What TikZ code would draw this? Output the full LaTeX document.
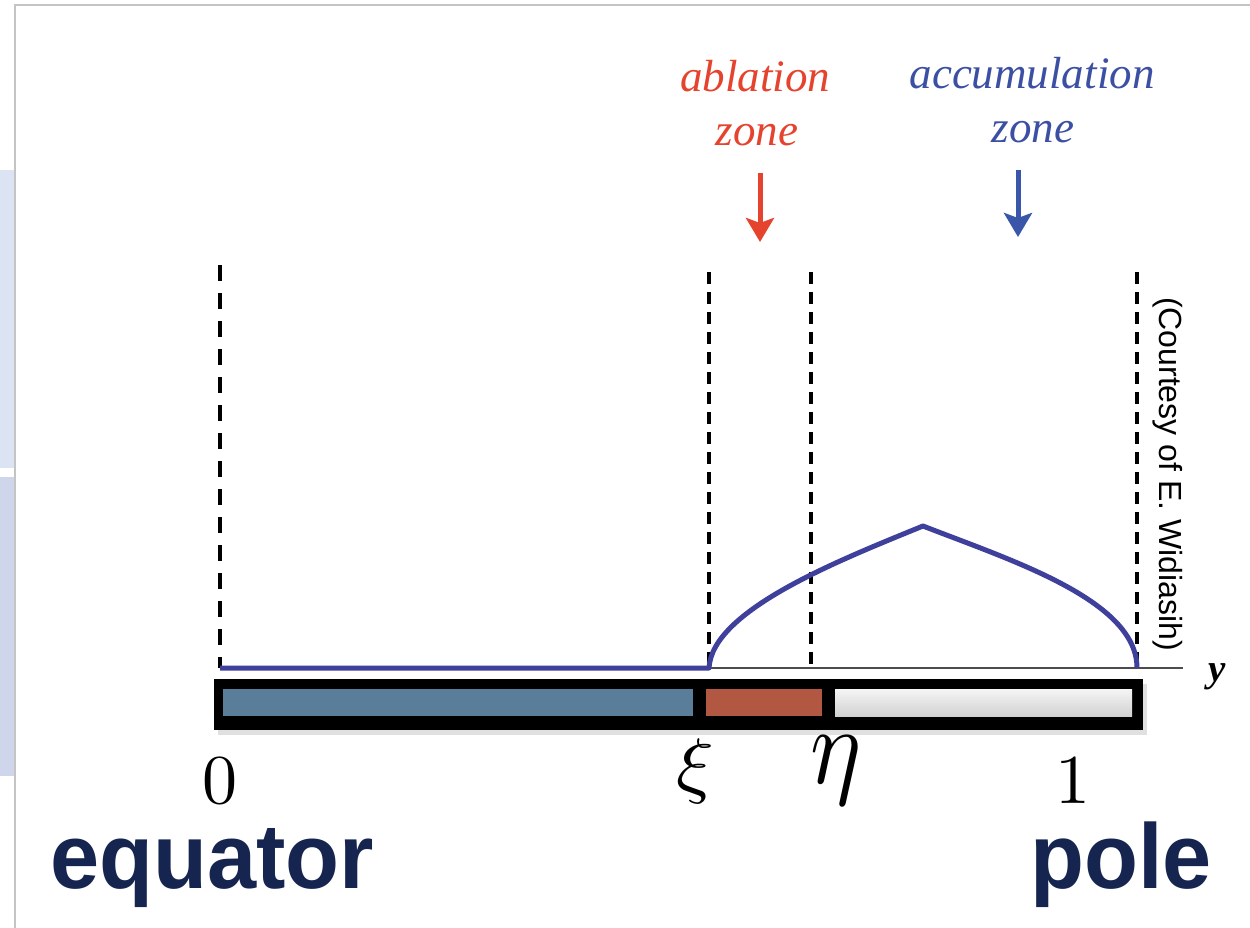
\documentclass[tikz,border=0pt]{standalone}
\usepackage{graphicx}
\usepackage{fontspec}
\usetikzlibrary{arrows.meta}
\newfontfamily\helv{Liberation Sans}
\newfontfamily\tms{Liberation Serif}
\definecolor{stripA}{HTML}{DCE3F3}
\definecolor{stripB}{HTML}{CFD6EB}
\definecolor{framegray}{HTML}{C4C4C4}
\definecolor{ablred}{HTML}{E5432E}
\definecolor{accblue}{HTML}{3B4FA3}
\definecolor{arrblue}{HTML}{3A56A8}
\definecolor{curveblue}{HTML}{3F3F9C}
\definecolor{barblue}{HTML}{5A7D9A}
\definecolor{barred}{HTML}{B25842}
\definecolor{navy}{HTML}{15254F}
\newcommand{\hugemath}[3]{\scalebox{#1}[#2]{\fontsize{10}{12}\selectfont$#3$}}
\begin{document}
\begin{tikzpicture}[x=1pt,y=-1pt,
  dashA/.style={draw=black,line width=4pt,dash pattern=on 16pt off 12pt},
  dashB/.style={draw=black,line width=3.2pt,dash pattern=on 12pt off 8pt},
  curve/.style={draw=curveblue,line width=5pt,line join=round},
  zonelab/.style={inner sep=0pt,font=\tms\itshape\fontsize{45}{50}\selectfont},
  zonearrow/.style={line width=5pt,-{Stealth[length=24pt,width=28pt,inset=5pt]}},
  ticklab/.style={inner sep=0pt},
  bigword/.style={inner sep=0pt,text=navy,xscale=0.96,font=\helv\bfseries\fontsize{92}{100}\selectfont}
]
\useasboundingbox (0,0) rectangle (1250,928);
\fill[white] (0,0) rectangle (1250,928);
% left strips and frame
\fill[stripA] (0,170) rectangle (14,468);
\fill[stripB] (0,477) rectangle (14,776);
\draw[framegray,line width=1.5pt] (15,928) -- (15,5) -- (1250,5);
% dashed verticals
\coordinate (d0t) at (220,265); \coordinate (d0b) at (220,668);
\coordinate (d1t) at (709,272); \coordinate (d1b) at (709,668);
\coordinate (d2t) at (811,272); \coordinate (d2b) at (811,668);
\coordinate (d3t) at (1137,272); \coordinate (d3b) at (1137,668);
\draw[dashA] (d0t) -- (d0b);
\draw[dashB] (d1t) -- (d1b);
\draw[dashB] (d2t) -- (d2b);
\draw[dashB] (d3t) -- (d3b);
% axis
\coordinate (ax0) at (220,668); \coordinate (ax1) at (1183,668);
\draw[black!70,line width=1.3pt] (ax0) -- (ax1);
\node[inner sep=0pt,anchor=base,font=\tms\bfseries\itshape\fontsize{39}{44}\selectfont] (ylab) at (1217,681) {y};
% curve
\draw[curve] (220,668) -- (709,668) .. controls (712,610) and (840,560) .. (923,526)
  .. controls (1010,560) and (1137,600) .. (1137,668);
% bar
\fill[black!12] (218,684) rectangle (1147,735);
\fill[black] (214,679) rectangle (1143,730);
\fill[barblue] (223,689) rectangle (693,716);
\fill[barred] (706,689) rectangle (822,716);
\shade[top color=white!96!black,bottom color=black!18] (835,689) rectangle (1132,716);
% zone labels
\node[zonelab,text=ablred,anchor=base] (abl1) at (755,92) {ablation};
\node[zonelab,text=ablred,anchor=base] (abl2) at (757,146) {zone};
\node[zonelab,text=accblue,anchor=base] (acc1) at (1032,89) {accumulation};
\node[zonelab,text=accblue,anchor=base] (acc2) at (1033,143) {zone};
\coordinate (ra1) at (760,173); \coordinate (ra2) at (760,242);
\coordinate (ba1) at (1018,170); \coordinate (ba2) at (1018,237);
\draw[zonearrow,ablred] (ra1) -- (ra2);
\draw[zonearrow,arrblue] (ba1) -- (ba2);
% courtesy
\node[inner sep=0pt,rotate=-90,font=\helv\fontsize{32}{36}\selectfont] (court) at (1168,474) {(Courtesy of E. Widiasih)};
% tick labels
\node[ticklab,anchor=base] (n0) at (220,803) {\hugemath{7}{7}{0}};
\node[ticklab,anchor=base] (nxi) at (695,789) {\hugemath{7.8}{7.3}{\xi}};
\node[ticklab,anchor=base] (neta) at (836,783) {\hugemath{9.6}{11}{\eta}};
\node[ticklab,anchor=base] (n1) at (1073,803) {\hugemath{7}{7}{1}};
% equator / pole
\node[bigword,anchor=base west] (eq) at (50,888) {equator};
\node[bigword,anchor=base east] (pole) at (1212,888) {pole};
\end{tikzpicture}
\end{document}
